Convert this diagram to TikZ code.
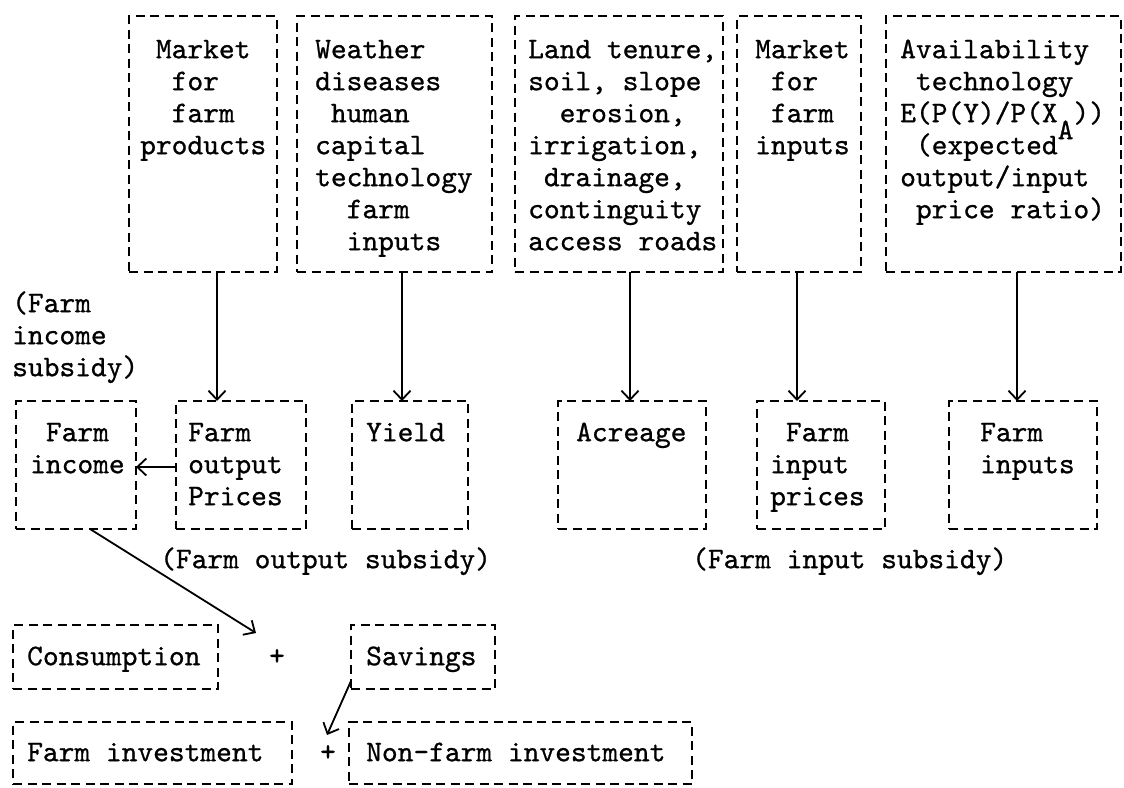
\documentclass[tikz,border=0pt]{standalone}
\usepackage{fontspec}
\usetikzlibrary{arrows.meta}

% typewriter face, slightly emboldened like a ribbon impression
\newfontfamily\twfont{lmmono10-regular.otf}[FakeBold=0.8]
% 30pt with single (typewriter) line spacing
\newcommand\tw{\fontsize{30}{32}\selectfont\twfont}
% fixed first-line height so every block starts from its first baseline
\newcommand\topln{\rule{0pt}{24pt}}

\tikzset{
  dbox/.style={draw, line width=2.3pt, dash pattern=on 9pt off 5.5pt,
               inner sep=0pt, outer sep=0pt, anchor=north west},
  txt/.style={anchor=north west, inner sep=0pt, align=left, font=\tw},
  arr/.style={line width=1.8pt, -{Straight Barb[length=9pt,width=17pt]}},
}

% dashed box: name, left, top, right, bottom
\newcommand\bx[5]{\node[dbox, minimum width={(#4-#2)*1pt},
  minimum height={(#5-#3)*1pt}] (#1) at (#2,#3) {};}
% text block: name, left, first baseline, lines
\newcommand\tx[4]{\node[txt] (#1) at (#2,#3-24) {\topln #4};}

\begin{document}
\begin{tikzpicture}[x=1pt, y=-1pt]
\useasboundingbox (0,0) rectangle (1124,787);

% ---- upper row: influences ----
\bx{mA}{129}{16}{277}{272}
\bx{mB}{297}{16}{492}{272}
\bx{mC}{515}{16}{723}{272}
\bx{mD}{737}{16}{861}{272}
\bx{mE}{886}{16}{1121}{272}

\tx{tA}{140}{58}{\phantom{x}Market\\\phantom{xx}for\\\phantom{xx}farm\\products}
\tx{tB}{315}{58}{Weather\\diseases\\\phantom{x}human\\capital\\technology\\\phantom{xx}farm\\\phantom{xx}inputs}
\tx{tC}{528}{58}{Land tenure,\\soil, slope\\\phantom{xx}erosion,\\irrigation,\\\phantom{x}drainage,\\continguity\\access roads}
\tx{tD}{755}{58}{Market\\\phantom{x}for\\\phantom{x}farm\\inputs}
\tx{tE}{900}{58}{Availability\\\phantom{x}technology\\E(P(Y)/P(X\raisebox{-17pt}[0pt][0pt]{A}))\\\phantom{x}(expected\\output/input\\\phantom{x}price ratio)}

% ---- middle row: farm quantities and prices ----
\bx{inc}{16}{401}{136}{529}
\bx{opr}{176}{401}{306}{529}
\bx{yld}{352}{401}{468}{529}
\bx{acr}{558}{401}{706}{529}
\bx{ipr}{757}{401}{885}{529}
\bx{inp}{949}{401}{1097}{529}

\tx{tinc}{30}{441}{\phantom{x}Farm\\income}
\tx{topr}{188}{441}{Farm\\output\\Prices}
\tx{tyld}{366}{441}{Yield}
\tx{tacr}{576}{441}{Acreage}
\tx{tipr}{770}{441}{\phantom{x}Farm\\input\\prices}
\tx{tinp}{980}{441}{Farm\\inputs}

\tx{sinc}{12}{312}{(Farm\\income\\subsidy)}
\tx{sout}{160}{568}{(Farm output subsidy)}
\tx{sin}{692}{568}{(Farm input subsidy)}

% ---- lower rows: use of income ----
\bx{cons}{13}{625}{218}{689}
\bx{sav}{351}{625}{495}{689}
\bx{finv}{13}{722}{292}{784}
\bx{nfinv}{349}{722}{692}{784}

\tx{tcons}{27}{665}{Consumption}
\tx{tsav}{366}{665}{Savings}
\tx{tfinv}{27}{761}{Farm investment}
\tx{tnfinv}{366}{761}{Non-farm investment}

\node[anchor=base, inner sep=0pt, font=\tw] (plusA) at (277,665) {+};
\node[anchor=base, inner sep=0pt, font=\tw] (plusB) at (328,761) {+};

% ---- connectors ----
\draw[arr] ([xshift=14pt]mA.south) -- ([xshift=-24pt]opr.north);
\draw[arr] ([xshift=7.5pt]mB.south) -- ([xshift=-8pt]yld.north);
\draw[arr] ([xshift=11pt]mC.south) -- ([xshift=-2pt]acr.north);
\draw[arr] ([xshift=-2pt]mD.south) -- ([xshift=-24pt]ipr.north);
\draw[arr] ([xshift=13.5pt]mE.south) -- ([xshift=-6pt]inp.north);

\draw[arr] ([yshift=-2pt]opr.west) -- ([yshift=-2pt]inc.east);

\coordinate (sumC) at (256,633);
\coordinate (sumI) at (327,735);
\draw[arr] ([xshift=14pt]inc.south) -- (sumC);
\draw[arr] ([yshift=8pt]sav.south west) -- (sumI);
\end{tikzpicture}
\end{document}
